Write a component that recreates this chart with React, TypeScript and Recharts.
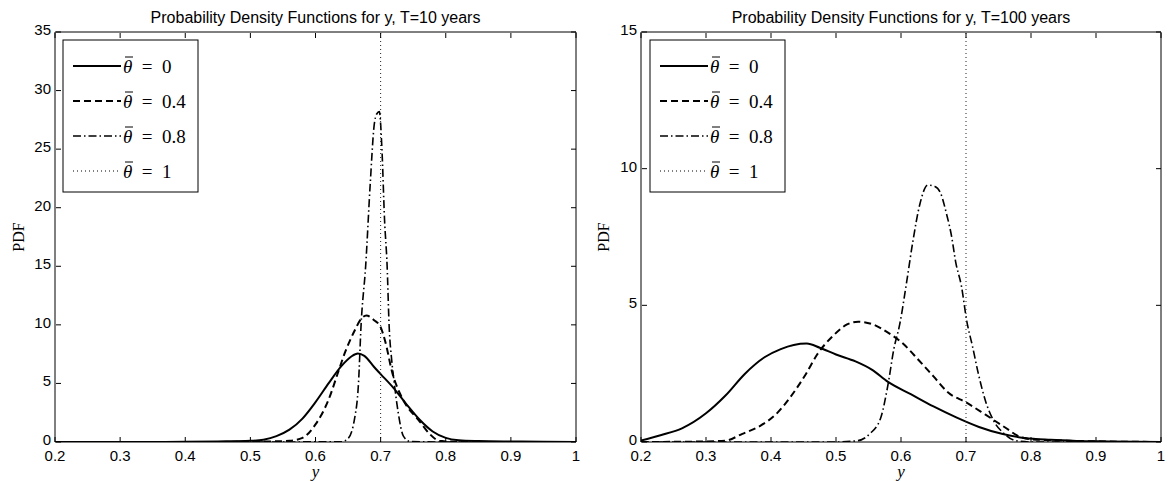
import { LineChart, Line, XAxis, YAxis } from "recharts";

// tick labels
const xTicks = [0.2, 0.3, 0.4, 0.5, 0.6, 0.7, 0.8, 0.9, 1];
const yTicksT10 = [0, 5, 10, 15, 20, 25, 30, 35];
const yTicksT100 = [0, 5, 10, 15];

// T = 10 years
const t10Theta0X = [0.2, 0.3, 0.4, 0.45, 0.5, 0.52, 0.54, 0.56, 0.58, 0.6, 0.62, 0.64, 0.655, 0.665, 0.675, 0.69, 0.7, 0.72, 0.74, 0.76, 0.78, 0.8, 0.82, 0.85, 0.9, 0.95, 1.0];
const t10Theta0Y = [0, 0, 0.02, 0.05, 0.1, 0.2, 0.5, 1.05, 2.0, 3.4, 5.0, 6.5, 7.3, 7.55, 7.35, 6.4, 5.8, 4.6, 3.2, 1.9, 0.9, 0.35, 0.15, 0.08, 0.04, 0.02, 0];

const t10Theta04X = [0.2, 0.4, 0.5, 0.56, 0.58, 0.6, 0.62, 0.635, 0.645, 0.66, 0.67, 0.678, 0.69, 0.7, 0.707, 0.718, 0.73, 0.741, 0.758, 0.775, 0.79, 0.8, 0.85, 1.0];
const t10Theta04Y = [0, 0, 0.02, 0.1, 0.35, 1.5, 3.6, 6.0, 7.6, 9.5, 10.5, 10.8, 10.4, 9.8, 8.6, 5.9, 4.1, 3.0, 1.9, 0.7, 0.1, 0.05, 0, 0];

const t10Theta08X = [0.2, 0.5, 0.64, 0.65, 0.66, 0.666, 0.67, 0.677, 0.684, 0.69, 0.694, 0.698, 0.702, 0.706, 0.71, 0.713, 0.717, 0.721, 0.727, 0.735, 0.745, 0.8, 1.0];
const t10Theta08Y = [0, 0, 0.02, 0.3, 2.0, 5.0, 10.0, 15.0, 22.0, 27.0, 28.0, 28.2, 25.0, 19.0, 15.0, 10.0, 7.0, 5.0, 2.5, 0.5, 0.05, 0, 0];

const t10Theta1X = [0.7, 0.7];
const t10Theta1Y = [0, 35];

// T = 100 years
const t100Theta0X = [0.2, 0.23, 0.263, 0.3, 0.33, 0.36, 0.39, 0.415, 0.435, 0.455, 0.475, 0.5, 0.53, 0.555, 0.58, 0.615, 0.65, 0.685, 0.72, 0.755, 0.79, 0.83, 0.87, 0.92, 1.0];
const t100Theta0Y = [0.05, 0.25, 0.5, 1.05, 1.7, 2.5, 3.1, 3.4, 3.55, 3.6, 3.45, 3.2, 2.95, 2.65, 2.2, 1.75, 1.3, 0.9, 0.55, 0.3, 0.15, 0.08, 0.04, 0.02, 0];

const t100Theta04X = [0.2, 0.3, 0.33, 0.356, 0.384, 0.407, 0.43, 0.454, 0.471, 0.494, 0.517, 0.534, 0.557, 0.58, 0.603, 0.627, 0.65, 0.673, 0.7, 0.73, 0.759, 0.782, 0.8, 0.85, 1.0];
const t100Theta04Y = [0, 0.02, 0.05, 0.3, 0.6, 1.0, 1.65, 2.5, 3.2, 3.85, 4.3, 4.4, 4.3, 4.0, 3.6, 3.0, 2.4, 1.8, 1.45, 1.0, 0.55, 0.2, 0.1, 0.05, 0];

const t100Theta08X = [0.2, 0.5, 0.534, 0.552, 0.569, 0.58, 0.589, 0.598, 0.609, 0.618, 0.629, 0.641, 0.652, 0.661, 0.67, 0.678, 0.684, 0.693, 0.701, 0.71, 0.719, 0.73, 0.742, 0.759, 0.776, 0.8, 1.0];
const t100Theta08Y = [0, 0, 0.05, 0.3, 0.9, 2.1, 3.4, 4.3, 5.9, 7.3, 8.7, 9.4, 9.35, 9.1, 8.35, 7.5, 6.6, 5.7, 4.45, 3.5, 2.5, 1.5, 0.8, 0.3, 0.05, 0, 0];

const t100Theta1X = [0.7, 0.7];
const t100Theta1Y = [0, 15];

const legendLabels = ["0", "0.4", "0.8", "1"];

const toPoints = (xs: number[], ys: number[]) => xs.map((x, i) => ({ x, y: ys[i] }));

const SANS = "'Liberation Sans', Arial, Helvetica, sans-serif";
const SERIF = "'Liberation Serif', 'DejaVu Serif', 'Times New Roman', serif";

const styles = [
  { dash: undefined, width: 2 },
  { dash: "7 4", width: 2 },
  { dash: "8 3 1.5 3", width: 1.6 },
  { dash: "1 3", width: 1 },
];

const fmtX = (v: number) => (v === 1 ? "1" : v.toFixed(1));

// axes are 1px wide/high (0 would hide them), ticks drawn inward
const BottomTick = (props: any) => {
  const { x, y, payload } = props;
  return (
    <g>
      <line x1={x} x2={x} y1={y} y2={y - 5} stroke="#000" />
      <text x={x} y={y + 19} textAnchor="middle" fontSize={15} fontFamily={SANS} fill="#000">
        {fmtX(payload.value)}
      </text>
    </g>
  );
};

const TopTick = (props: any) => {
  const { x, y } = props;
  return <line x1={x} x2={x} y1={y + 1} y2={y + 6} stroke="#000" />;
};

const LeftTick = (props: any) => {
  const { x, y, payload } = props;
  return (
    <g>
      <line x1={x + 1} x2={x + 6} y1={y} y2={y} stroke="#000" />
      <text x={x - 4} y={y + 3} textAnchor="end" fontSize={15} fontFamily={SANS} fill="#000">
        {payload.value}
      </text>
    </g>
  );
};

const RightTick = (props: any) => {
  const { x, y } = props;
  return <line x1={x} x2={x - 5} y1={y} y2={y} stroke="#000" />;
};

type PanelProps = {
  left: number;
  width: number;
  marginLeft: number;
  marginRight: number;
  yMax: number;
  yTicks: number[];
  series: { x: number; y: number }[][];
};

function Panel({ left, width, marginLeft, marginRight, yMax, yTicks, series }: PanelProps) {
  return (
    <div style={{ position: "absolute", left, top: 0 }}>
      <LineChart
        width={width}
        height={481}
        margin={{ top: 31, right: marginRight - 1, bottom: 38, left: marginLeft - 1 }}
      >
        <XAxis
          xAxisId="b"
          type="number"
          dataKey="x"
          domain={[0.2, 1]}
          ticks={xTicks}
          interval={0}
          allowDataOverflow
          height={1}
          tickSize={0}
          tickMargin={0}
          tick={(p: any) => <BottomTick {...p} />}
          axisLine={{ stroke: "#000" }}
        />
        <XAxis
          xAxisId="t"
          orientation="top"
          type="number"
          dataKey="x"
          domain={[0.2, 1]}
          ticks={xTicks}
          interval={0}
          allowDataOverflow
          height={1}
          tickSize={0}
          tickMargin={0}
          tick={(p: any) => <TopTick {...p} />}
          axisLine={{ stroke: "#000" }}
        />
        <YAxis
          yAxisId="l"
          type="number"
          domain={[0, yMax]}
          ticks={yTicks}
          interval={0}
          allowDataOverflow
          width={1}
          tickSize={0}
          tickMargin={0}
          tick={(p: any) => <LeftTick {...p} />}
          axisLine={{ stroke: "#000" }}
        />
        <YAxis
          yAxisId="r"
          orientation="right"
          type="number"
          domain={[0, yMax]}
          ticks={yTicks}
          interval={0}
          allowDataOverflow
          width={1}
          tickSize={0}
          tickMargin={0}
          tick={(p: any) => <RightTick {...p} />}
          axisLine={{ stroke: "#000" }}
        />
        {series.map((pts, i) => (
          <Line
            key={i}
            xAxisId="b"
            yAxisId="l"
            data={pts}
            dataKey="y"
            type={i === 3 ? "linear" : "monotone"}
            stroke={i === 3 ? "#222" : "#000"}
            strokeWidth={styles[i].width}
            strokeDasharray={styles[i].dash}
            dot={false}
            activeDot={false}
            isAnimationActive={false}
          />
        ))}
      </LineChart>
    </div>
  );
}

function LegendBox({ x }: { x: number }) {
  const rows = [66, 101, 136, 171];
  return (
    <g>
      <rect x={x} y={40} width={135} height={152} fill="#fff" stroke="#000" strokeWidth={1} />
      {rows.map((ry, i) => (
        <g key={i}>
          <line
            x1={x + 10}
            x2={x + 58}
            y1={ry}
            y2={ry}
            stroke="#000"
            strokeWidth={styles[i].width}
            strokeDasharray={styles[i].dash}
          />
          <line x1={x + 62} x2={x + 70} y1={ry - 9} y2={ry - 9} stroke="#000" strokeWidth={1} />
          <text x={x + 60} y={ry + 7} fontSize={19} fontFamily={SERIF} fill="#000" xmlSpace="preserve">
            <tspan fontStyle="italic">{"\u03B8"}</tspan>
            {"  =  " + legendLabels[i]}
          </text>
        </g>
      ))}
    </g>
  );
}

export default function App() {
  const leftSeries = [
    toPoints(t10Theta0X, t10Theta0Y),
    toPoints(t10Theta04X, t10Theta04Y),
    toPoints(t10Theta08X, t10Theta08Y),
    toPoints(t10Theta1X, t10Theta1Y),
  ];
  const rightSeries = [
    toPoints(t100Theta0X, t100Theta0Y),
    toPoints(t100Theta04X, t100Theta04Y),
    toPoints(t100Theta08X, t100Theta08Y),
    toPoints(t100Theta1X, t100Theta1Y),
  ];
  return (
    <div style={{ position: "absolute", left: 0, top: 0, width: 1169, height: 481, background: "#fff" }}>
      <Panel left={0} width={580} marginLeft={55} marginRight={4} yMax={35} yTicks={yTicksT10} series={leftSeries} />
      <Panel left={580} width={589} marginLeft={61} marginRight={8} yMax={15} yTicks={yTicksT100} series={rightSeries} />
      <svg width={1169} height={481} style={{ position: "absolute", left: 0, top: 0, pointerEvents: "none" }}>
        <text x={315.5} y={23} textAnchor="middle" fontSize={16} fontFamily={SANS} fill="#000">
          Probability Density Functions for y, T=10 years
        </text>
        <text x={901} y={23} textAnchor="middle" fontSize={16} fontFamily={SANS} fill="#000">
          Probability Density Functions for y, T=100 years
        </text>
        <text x={24} y={237} transform="rotate(-90 24 237)" textAnchor="middle" fontSize={16} fontFamily={SERIF} fill="#000">
          PDF
        </text>
        <text x={609} y={237} transform="rotate(-90 609 237)" textAnchor="middle" fontSize={16} fontFamily={SERIF} fill="#000">
          PDF
        </text>
        <text x={315.5} y={477} textAnchor="middle" fontSize={17} fontStyle="italic" fontFamily={SERIF} fill="#000">
          y
        </text>
        <text x={901} y={477} textAnchor="middle" fontSize={17} fontStyle="italic" fontFamily={SERIF} fill="#000">
          y
        </text>
        <LegendBox x={63} />
        <LegendBox x={650} />
      </svg>
    </div>
  );
}
